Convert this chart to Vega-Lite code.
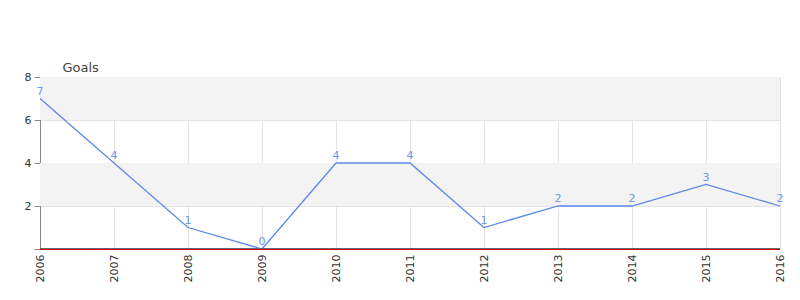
{
  "$schema": "https://vega.github.io/schema/vega-lite/v6.json",
  "width": 740,
  "height": 172,
  "autosize": {"type": "none"},
  "padding": {"left": 40, "top": 77, "right": 20, "bottom": 51},
  "config": {
    "font": "DejaVu Sans",
    "view": {"stroke": null},
    "axis": {"labelFont": "DejaVu Sans", "titleFont": "DejaVu Sans"}
  },
  "datasets": {
    "goals": [
      {"year": "2006", "goals": 7},
      {"year": "2007", "goals": 4},
      {"year": "2008", "goals": 1},
      {"year": "2009", "goals": 0},
      {"year": "2010", "goals": 4},
      {"year": "2011", "goals": 4},
      {"year": "2012", "goals": 1},
      {"year": "2013", "goals": 2},
      {"year": "2014", "goals": 2},
      {"year": "2015", "goals": 3},
      {"year": "2016", "goals": 2}
    ],
    "bands": [
      {"lo": 2, "hi": 4},
      {"lo": 6, "hi": 8}
    ],
    "base": [
      {"value": 0}
    ]
  },
  "layer": [
    {
      "data": {"name": "bands"},
      "mark": {"type": "rect", "color": "#f3f3f3"},
      "encoding": {
        "y": {"field": "lo", "type": "quantitative", "scale": {"domain": [0, 8]}},
        "y2": {"field": "hi"}
      }
    },
    {
      "data": {"name": "goals"},
      "mark": {"type": "line", "color": "#5b8ae8", "strokeWidth": 1.3},
      "encoding": {
        "x": {
          "field": "year", "type": "ordinal",
          "scale": {"type": "point", "padding": 0},
          "axis": {
            "title": null, "labelAngle": 270, "ticks": false, "domain": false,
            "grid": true, "gridColor": "#e4e4e4", "labelFontSize": 11,
            "labelColor": "#333333", "labelPadding": 5
          }
        },
        "y": {
          "field": "goals", "type": "quantitative",
          "scale": {"domain": [0, 8], "nice": false},
          "axis": {
            "values": [0, 1, 2, 3, 4, 5, 6, 7, 8],
            "labelExpr": "datum.value % 2 == 0 && datum.value > 0 ? datum.label : ''",
            "title": "Goals", "titleAngle": 0, "titleAlign": "left",
            "titleBaseline": "alphabetic", "titleX": 22, "titleY": -6,
            "titleFontSize": 13, "titleFontWeight": "normal", "titleColor": "#444444",
            "labelFontSize": 11, "labelColor": "#333333", "labelPadding": 3,
            "domainColor": "#888888",
            "tickColor": "#888888",
            "tickSize": {"condition": {"test": "datum.value % 2 == 0", "value": 6}, "value": 3},
            "grid": true, "gridColor": "#e4e4e4",
            "gridOpacity": {"condition": {"test": "datum.value % 2 == 0", "value": 1}, "value": 0}
          }
        }
      }
    },
    {
      "data": {"name": "goals"},
      "mark": {"type": "text", "color": "#6f98e8", "fontSize": 11, "baseline": "bottom", "dy": -2},
      "encoding": {
        "x": {"field": "year", "type": "ordinal"},
        "y": {"field": "goals", "type": "quantitative"},
        "text": {"field": "goals", "type": "quantitative"}
      }
    },
    {
      "data": {"name": "base"},
      "mark": {"type": "rule", "color": "#666666", "strokeWidth": 1, "yOffset": -0.5},
      "encoding": {"y": {"field": "value", "type": "quantitative"}}
    },
    {
      "data": {"name": "base"},
      "mark": {"type": "rule", "color": "#dd0000", "strokeWidth": 1, "yOffset": 0.5},
      "encoding": {"y": {"field": "value", "type": "quantitative"}}
    }
  ]
}
